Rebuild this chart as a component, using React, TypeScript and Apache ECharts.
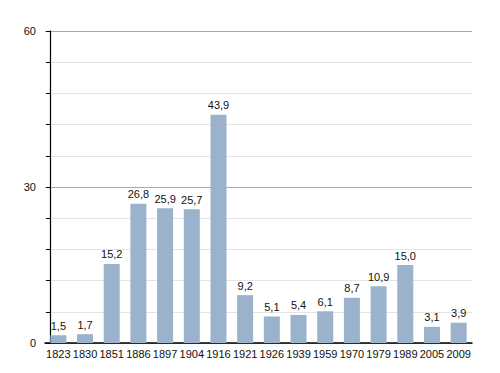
import React, { useEffect, useRef } from "react";
import * as echarts from "echarts";

const years = ["1823", "1830", "1851", "1886", "1897", "1904", "1916", "1921", "1926", "1939", "1959", "1970", "1979", "1989", "2005", "2009"];
const values = [1.5, 1.7, 15.2, 26.8, 25.9, 25.7, 43.9, 9.2, 5.1, 5.4, 6.1, 8.7, 10.9, 15.0, 3.1, 3.9];
const yLabels = [0, 30, 60];

export default function App() {
  const ref = useRef<HTMLDivElement>(null);
  useEffect(() => {
    const chart = echarts.init(ref.current!, null, { renderer: "svg" });
    const font = "'Liberation Sans', Arial, sans-serif";
    chart.setOption({
      animation: false,
      grid: { left: 45, right: 28, top: 31, bottom: 30, containLabel: false },
      xAxis: {
        type: "category",
        data: years,
        axisLine: { lineStyle: { color: "#000", width: 1.5 } },
        axisTick: { show: false },
        axisLabel: { color: "#111", fontSize: 11, fontFamily: font, margin: 5, interval: 0 },
      },
      yAxis: {
        type: "value",
        min: 0,
        max: 60,
        interval: 6,
        offset: -5,
        axisLine: { show: true, lineStyle: { color: "#000", width: 1.2 } },
        axisTick: { show: true, length: 4, lineStyle: { color: "#000" } },
        axisLabel: {
          color: "#111",
          fontSize: 11,
          fontFamily: font,
          margin: 14,
          formatter: (v: number) => (yLabels.includes(v) ? String(v) : ""),
        },
        splitLine: {
          show: true,
          lineStyle: { color: ["#aaaaaa", "#e4e4e4", "#e4e4e4", "#e4e4e4", "#e4e4e4"], width: 1 },
        },
      },
      series: [
        {
          type: "bar",
          data: values,
          barWidth: 16,
          itemStyle: { color: "#9bb2cd" },
          label: {
            show: true,
            position: "top",
            distance: 4,
            color: "#111",
            fontSize: 11,
            fontFamily: font,
            formatter: (p: any) => p.value.toFixed(1).replace(".", ","),
          },
        },
      ],
    });
    return () => chart.dispose();
  }, []);
  return <div ref={ref} style={{ width: 500, height: 373, position: "absolute", left: 0, top: 0 }} />;
}
